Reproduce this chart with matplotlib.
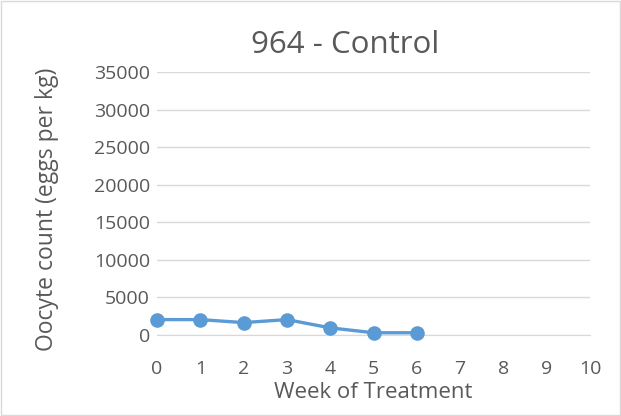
import numpy as np
import matplotlib
matplotlib.use("Agg")
import matplotlib.pyplot as plt
from matplotlib.patches import Rectangle

# Data ------------------------------------------------------------------------
weeks = [0, 1, 2, 3, 4, 5, 6]
oocytes = [2050, 2050, 1650, 2050, 950, 300, 300]
title = "964 - Control"
x_label = "Week of Treatment"
y_label = "Oocyte count (eggs per kg)"

grey = "#595959"
grid_c = "#d9d9d9"
blue = "#5b9bd5"

plt.rcParams["font.family"] = ["Open Sans", "DejaVu Sans"]

fig = plt.figure(figsize=(6.21, 4.16), dpi=100)
ax = fig.add_axes([157 / 621, 1 - 335 / 416, (590 - 157) / 621, (335 - 72) / 416])

ax.plot(weeks, oocytes, "-o", color=blue, lw=2.4, ms=10.5, mew=0, clip_on=False, zorder=3)

ax.set_xlim(0, 10)
ax.set_ylim(0, 35000)
ax.set_xticks(range(0, 11))
ax.set_yticks(range(0, 35001, 5000))
ax.grid(axis="y", color=grid_c, lw=1)
ax.set_axisbelow(True)
for s in ["top", "right", "left"]:
    ax.spines[s].set_visible(False)
ax.spines["bottom"].set_color(grid_c)
ax.tick_params(length=0, labelsize=14, colors=grey)
ax.tick_params(axis="x", pad=18)
ax.tick_params(axis="y", pad=5)

fig.text(373 / 621, 1 - 392 / 416, x_label, fontsize=16, color=grey, ha="center", va="center")
fig.text(47 / 621, 1 - 209 / 416, y_label, fontsize=16.5, color=grey, ha="center", va="center",
         rotation=90)
fig.text(345 / 621, 1 - 45 / 416, title, fontsize=22.5, color=grey, ha="center", va="center")

# outer border
fig.patches.append(Rectangle((0.002, 0.002), 0.996, 0.996, transform=fig.transFigure,
                             fill=False, edgecolor=grid_c, lw=1))

fig.savefig("out.png", dpi=100)
